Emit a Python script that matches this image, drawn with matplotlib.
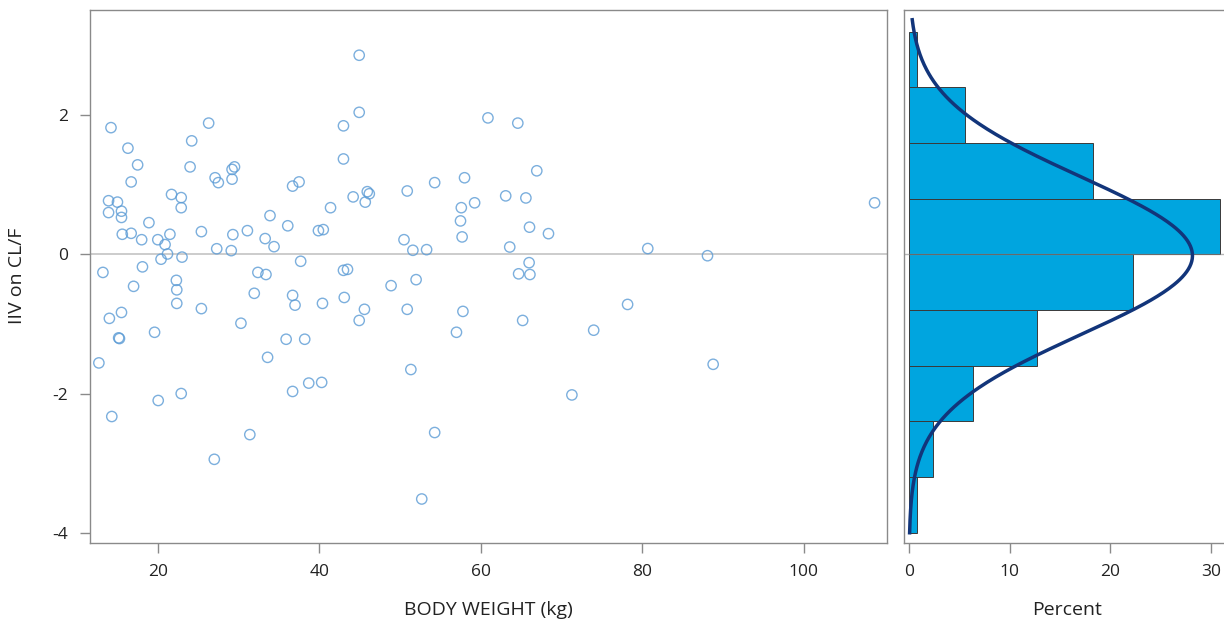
import matplotlib
matplotlib.use("Agg")
import matplotlib.pyplot as plt
import numpy as np

plt.rcParams['font.family'] = ['Open Sans', 'DejaVu Sans']
plt.rcParams['axes.unicode_minus'] = False

# body weight (kg) and IIV on CL/F
weight = [
    44.95, 44.95, 14.2, 26.3, 24.2, 16.3, 17.5, 24.0, 43.0, 43.0,
    29.2, 29.5, 29.2, 27.1, 27.5, 16.7, 36.7, 37.5, 44.2, 41.4,
    13.9, 15.0, 13.9, 15.5, 15.5, 21.7, 22.9, 22.9, 18.9, 33.9,
    36.1, 39.9, 40.5, 15.6, 16.7, 18.0, 20.0, 21.5, 20.9, 25.4,
    29.3, 31.1, 33.3, 34.4, 27.3, 29.1, 21.2, 20.4, 23.0, 13.2,
    18.1, 22.3, 37.7, 32.4, 33.4, 43.0, 43.5, 22.35, 22.35, 17.0,
    15.5, 14.0, 15.15, 15.25, 19.6, 12.7, 25.4, 30.3, 31.95, 36.7,
    37.0, 43.1, 40.4, 35.9, 38.2, 33.6, 36.7, 38.7, 40.3, 20.05,
    22.9, 14.3, 31.4, 27.0, 60.9, 64.6, 66.95, 58.0, 54.3, 50.9,
    45.95, 46.2, 45.7, 63.1, 65.6, 59.25, 57.6, 57.5, 57.7, 66.05,
    68.4, 50.5, 51.6, 53.3, 63.6, 66.0, 64.7, 66.1, 52.0, 48.9,
    45.6, 44.95, 50.9, 57.8, 57.0, 65.2, 74.0, 51.35, 71.3, 54.3,
    52.7, 108.8, 80.7, 88.1, 78.2, 88.8,
]
iiv = [
    2.86, 2.04, 1.82, 1.885, 1.63, 1.525, 1.285, 1.256, 1.846, 1.37,
    1.22, 1.256, 1.08, 1.10, 1.03, 1.04, 0.98, 1.04, 0.825, 0.67,
    0.77, 0.75, 0.60, 0.62, 0.53, 0.86, 0.815, 0.67, 0.455, 0.556,
    0.41, 0.34, 0.355, 0.288, 0.302, 0.21, 0.21, 0.288, 0.14, 0.326,
    0.283, 0.34, 0.226, 0.11, 0.08, 0.053, 0.005, -0.07, -0.04, -0.26,
    -0.18, -0.374, -0.10, -0.26, -0.29, -0.23, -0.216, -0.51, -0.705, -0.46,
    -0.835, -0.92, -1.20, -1.21, -1.12, -1.56, -0.78, -0.99, -0.56, -0.59,
    -0.73, -0.62, -0.705, -1.22, -1.22, -1.48, -1.97, -1.85, -1.84, -2.10,
    -2.0, -2.33, -2.59, -2.945, 1.96, 1.885, 1.20, 1.10, 1.03, 0.91,
    0.90, 0.87, 0.75, 0.84, 0.81, 0.74, 0.67, 0.48, 0.25, 0.39,
    0.297, 0.21, 0.058, 0.067, 0.105, -0.12, -0.28, -0.29, -0.364, -0.45,
    -0.79, -0.95, -0.79, -0.82, -1.12, -0.95, -1.09, -1.655, -2.02, -2.56,
    -3.515, 0.74, 0.083, -0.02, -0.72, -1.58,
]
bin_edges = [-4.0, -3.2, -2.4, -1.6, -0.8, 0.0, 0.8, 1.6, 2.4, 3.2]

x_ticks = [20, 40, 60, 80, 100]
y_ticks = [-4, -2, 0, 2]
pct_ticks = [0, 10, 20, 30]

point_col = '#5b9bd5'
bar_col = '#00a5df'
curve_col = '#12357a'
frame_col = '#8a8a8a'
ref_col = '#c8c8c8'
text_col = '#222222'

fig = plt.figure(figsize=(12.24, 6.25), dpi=100)
W, H = 1224, 625
ax = fig.add_axes([90 / W, (H - 542.5) / H, (886.7 - 90) / W, (542.5 - 10) / H])
axh = fig.add_axes([904.3 / W, (H - 542.5) / H, (1230 - 904.3) / W, (542.5 - 10) / H])

# scatter
ax.axhline(0, color=ref_col, lw=1.3, zorder=1)
ax.scatter(weight, iiv, s=55, facecolors='none', edgecolors=point_col,
           linewidths=1.0, alpha=0.8, zorder=3)
ax.set_xlim(11.6, 110.3)
ax.set_ylim(-4.14, 3.51)
ax.set_xticks(x_ticks)
ax.set_yticks(y_ticks)
ax.set_xlabel('BODY WEIGHT (kg)', fontsize=14, color=text_col, labelpad=15)
ax.set_ylabel('IIV on CL/F', fontsize=14, color=text_col, labelpad=19)

# histogram of the same values, in percent
vals = np.array(iiv)
counts, _ = np.histogram(vals, bins=bin_edges)
pct = counts / len(vals) * 100
widths = np.diff(bin_edges)
axh.barh(bin_edges[:-1], pct, height=widths, align='edge', color=bar_col,
         edgecolor='#3a3a3a', linewidth=0.7, zorder=2)

mu, sd = vals.mean(), vals.std(ddof=1)
yy = np.linspace(-4.0, 3.37, 400)
dens = 100 * 0.8 * np.exp(-0.5 * ((yy - mu) / sd) ** 2) / (sd * np.sqrt(2 * np.pi))
axh.plot(dens, yy, color=curve_col, lw=2.5, zorder=4)
axh.axhline(0, color=frame_col, lw=1.0, alpha=0.6, zorder=3)

axh.set_ylim(-4.14, 3.51)
axh.set_xlim(-0.47, 31.9)
axh.set_xticks(pct_ticks)
axh.set_yticks([])
axh.set_xlabel('Percent', fontsize=14, color=text_col, labelpad=15)

for a in (ax, axh):
    for s in a.spines.values():
        s.set_color(frame_col)
        s.set_linewidth(1.0)
    a.tick_params(direction='out', length=7.5, width=1.0, color=frame_col,
                  labelsize=12.5, labelcolor=text_col, pad=8)

fig.savefig('out.png', dpi=100)
